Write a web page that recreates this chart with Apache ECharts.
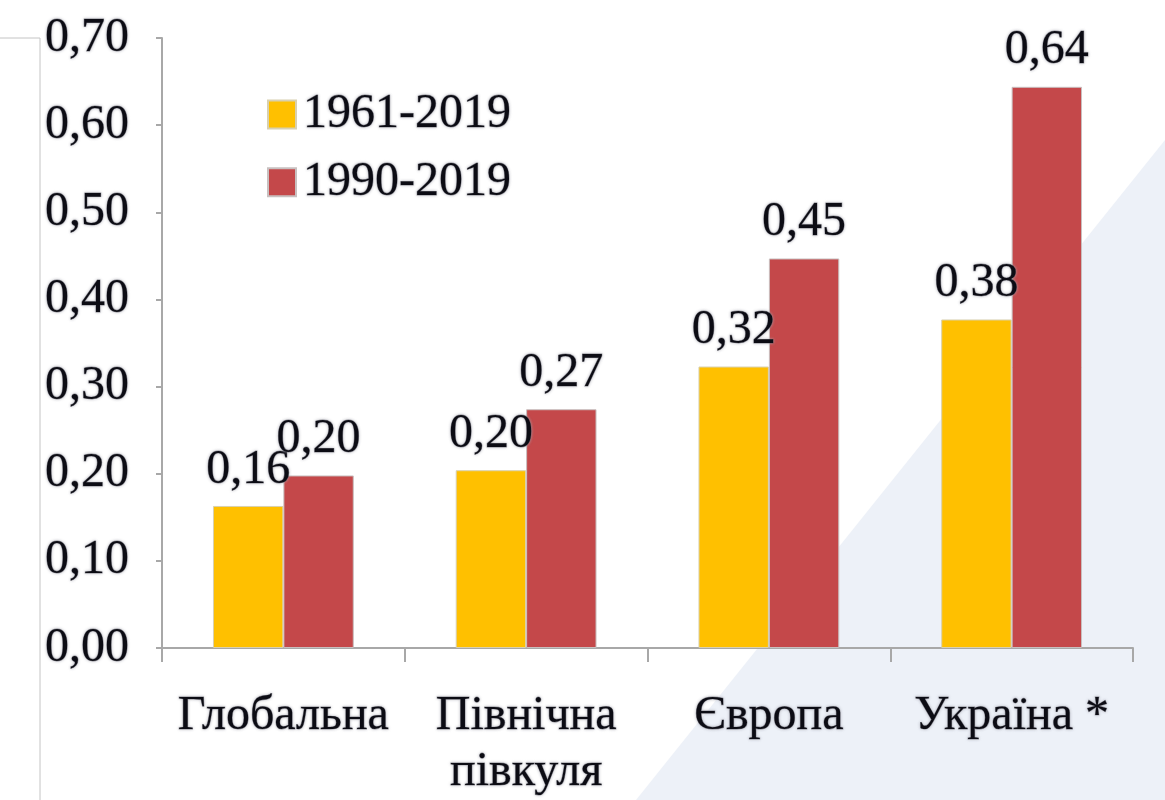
<!DOCTYPE html>
<html>
<head>
<meta charset="utf-8">
<script src="https://cdn.jsdelivr.net/npm/echarts@6/dist/echarts.min.js"></script>
<style>html,body{margin:0;padding:0;background:#fff}#c{width:1165px;height:800px}</style>
</head>
<body>
<div id="c"></div>
<script>
const categories = ['Глобальна', 'Північна\nпівкуля', 'Європа', 'Україна *'];
const seriesNames = ['1961-2019', '1990-2019'];
const values1961 = [0.163, 0.204, 0.323, 0.377];
const values1990 = [0.198, 0.274, 0.447, 0.644];
const yMin = 0, yMax = 0.7, yStep = 0.1;

const FONT = '"Liberation Serif", "Times New Roman", serif';
const txt = {
  fontFamily: FONT, fontSize: 48, color: '#0c0c14',
  textBorderColor: 'rgba(30,30,40,0.5)', textBorderWidth: 0.8,
  textShadowColor: 'rgba(170,170,180,0.9)', textShadowBlur: 3
};
const fmt = v => Number(v).toFixed(2).replace('.', ',');

const chart = echarts.init(document.getElementById('c'), null, {renderer: 'canvas'});
chart.setOption({
  animation: false,
  backgroundColor: '#ffffff',
  graphic: [
    {type: 'polygon', z: -10, silent: true,
     shape: {points: [[636, 800], [1165, 800], [1165, 140]]},
     style: {fill: '#edf1f8'}},
    {type: 'polyline', z: -10, silent: true,
     shape: {points: [[0, 38], [40, 38], [40, 800]]},
     style: {stroke: '#c4c4c4', lineWidth: 1, fill: null}}
  ],
  grid: {left: 162, right: 32, top: 38, bottom: 149, containLabel: false},
  legend: {
    orient: 'vertical', left: 262, top: 85, itemGap: 19,
    itemWidth: 28, itemHeight: 28, icon: 'rect',
    textStyle: Object.assign({}, txt, {padding: [0, 0, 0, 2]}),
    data: seriesNames
  },
  xAxis: {
    type: 'category', data: categories,
    axisLine: {lineStyle: {color: '#a8a8a8', width: 2}},
    axisTick: {show: true, length: 14, lineStyle: {color: '#a8a8a8', width: 2}},
    axisLabel: Object.assign({}, txt, {margin: 40, lineHeight: 56, interval: 0})
  },
  yAxis: {
    type: 'value', min: yMin, max: yMax, interval: yStep,
    splitLine: {show: false},
    axisLine: {show: true, lineStyle: {color: '#a8a8a8', width: 2}},
    axisTick: {show: true, length: 6, lineStyle: {color: '#a8a8a8', width: 2}},
    axisLabel: Object.assign({}, txt, {margin: 33, formatter: fmt})
  },
  series: [
    {name: seriesNames[0], type: 'bar', data: values1961,
     barGap: '0%', barCategoryGap: '42%',
     itemStyle: {color: '#ffc000', borderColor: '#d8d0b0', borderWidth: 1},
     label: Object.assign({show: true, position: 'top', distance: 12,
       formatter: p => fmt(p.value)}, txt)},
    {name: seriesNames[1], type: 'bar', data: values1990,
     itemStyle: {color: '#c4484a', borderColor: '#c8c0c0', borderWidth: 1},
     label: Object.assign({show: true, position: 'top', distance: 12,
       formatter: p => fmt(p.value)}, txt)}
  ]
});
</script>
</body>
</html>
